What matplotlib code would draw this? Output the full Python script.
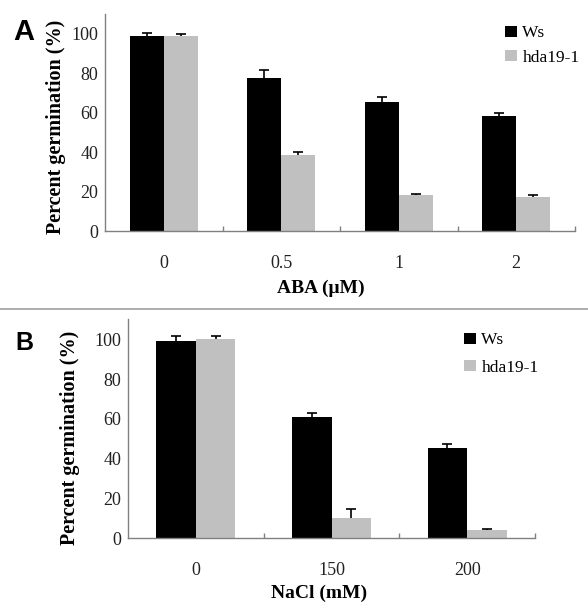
import matplotlib
matplotlib.use("Agg")
import matplotlib.pyplot as plt
from matplotlib.lines import Line2D
import numpy as np

# panel A: ABA
aba_labels = ["0", "0.5", "1", "2"]
aba_ws = [99, 77.8, 65.5, 58.2]
aba_ws_err = [1.6, 3.8, 2.4, 1.7]
aba_hda = [99, 38.6, 18.1, 17.4]
aba_hda_err = [1.0, 1.7, 0.7, 0.7]

# panel B: NaCl
nacl_labels = ["0", "150", "200"]
nacl_ws = [99.1, 60.8, 45.2]
nacl_ws_err = [2.5, 2.3, 2.3]
nacl_hda = [100.3, 10.4, 4.3]
nacl_hda_err = [1.2, 4.2, 0.5]

W, H = 588, 612
SERIF = "Liberation Serif"
AXCOL = "#808080"


def panel(rect, labels, ws, ws_err, hda, hda_err, xlabel, xl_pos, yl_pos, leg_pos, leg_sp):
    ax = fig.add_axes([rect[0] / W, 1 - rect[1] / H, rect[2] / W, rect[3] / H])
    x = np.arange(len(labels))
    bw = 0.29
    z = np.zeros(len(labels))
    ekw = dict(ecolor="black", elinewidth=1.2, capsize=3.6, capthick=1.2)
    b1 = ax.bar(x - bw / 2, ws, bw, color="black", label="Ws", yerr=[z, ws_err], error_kw=ekw)
    b2 = ax.bar(x + bw / 2, hda, bw, color="#c0c0c0", label="hda19-1", yerr=[z, hda_err], error_kw=ekw)
    # only the upper cap is drawn in the original
    for b in (b1, b2):
        b.errorbar.lines[1][0].set_visible(False)
    ax.set_xlim(-0.5, len(labels) - 0.5)
    ax.set_ylim(0, 110)
    ax.set_yticks([0, 20, 40, 60, 80, 100])
    for s in ["top", "right"]:
        ax.spines[s].set_visible(False)
    for s in ["left", "bottom"]:
        ax.spines[s].set_color(AXCOL)
        ax.spines[s].set_linewidth(1.0)
    ax.set_xticks(x)
    ax.set_xticklabels(labels)
    ax.set_xticks(np.arange(len(labels)) + 0.5, minor=True)
    ax.tick_params(axis="x", which="major", length=0, pad=17)
    ax.tick_params(axis="x", which="minor", direction="in", length=3.6, color=AXCOL, width=1)
    ax.tick_params(axis="y", length=0, pad=5)
    for t in ax.get_xticklabels() + ax.get_yticklabels():
        t.set_fontfamily(SERIF)
        t.set_fontsize(13)
        t.set_color("#222222")
    ax.set_xlabel(xlabel, fontfamily=SERIF, fontweight="bold", fontsize=14, va="center")
    ax.xaxis.set_label_coords(*xl_pos)
    ax.set_ylabel("Percent germination (%)", fontfamily=SERIF, fontweight="bold", fontsize=14.5, va="center")
    ax.yaxis.set_label_coords(*yl_pos)
    ax.legend(loc="upper left", bbox_to_anchor=leg_pos, frameon=False,
              prop=dict(family=SERIF, size=12.5), borderpad=0, borderaxespad=0,
              handlelength=0.7, handleheight=0.6, handletextpad=0.3, labelspacing=leg_sp)
    return ax


fig = plt.figure(figsize=(W / 100, H / 100), dpi=100)

panel((105, 231, 470, 216.7), aba_labels, aba_ws, aba_ws_err, aba_hda, aba_hda_err,
      "ABA (\u03bcM)", (0.46, -0.263), (-0.104, 0.48), (0.851, 0.95), 0.5)
panel((128, 538.3, 407, 219), nacl_labels, nacl_ws, nacl_ws_err, nacl_hda, nacl_hda_err,
      "NaCl (mM)", (0.469, -0.25), (-0.1425, 0.46), (0.8256, 0.94), 0.65)

fig.text(13 / W, 1 - 40 / H, "A", fontfamily="Liberation Sans", fontweight="bold", fontsize=21, va="baseline")
fig.text(15 / W, 1 - 350 / H, "B", fontfamily="Liberation Sans", fontweight="bold", fontsize=18, va="baseline")
fig.add_artist(Line2D([0, 1], [1 - 309 / H, 1 - 309 / H], transform=fig.transFigure, color="#a0a0a0", lw=1.2))

fig.savefig("out.png", dpi=100)
